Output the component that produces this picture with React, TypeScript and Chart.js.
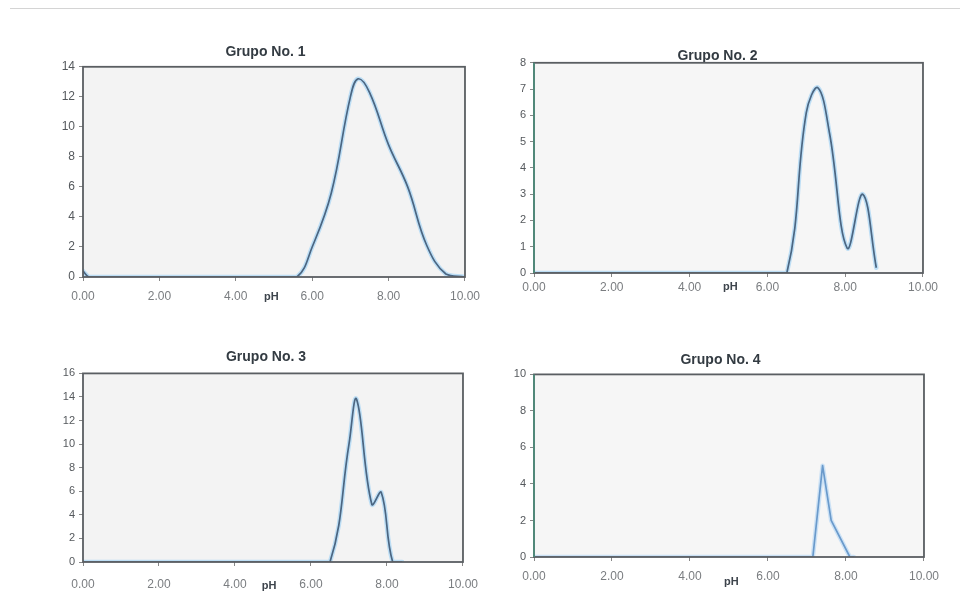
import React, { useEffect, useRef } from "react";
import { Chart, registerables } from "chart.js";

Chart.register(...registerables);

// ---------- data ----------
const xTickValues = [0, 2, 4, 6, 8, 10];

const titles = ["Grupo No. 1", "Grupo No. 2", "Grupo No. 3", "Grupo No. 4"];

const g1pH = [0, 0.15, 0.3, 5.0, 5.6, 6.0, 6.5, 7.0, 7.2, 7.5, 8.0, 8.5, 9.0, 9.5, 10];
const g1Count = [0.4, 0, 0, 0, 0, 2.0, 5.6, 12.0, 13.2, 12.3, 8.8, 6.0, 2.1, 0.2, 0];

const g2pH = [0, 6.0, 6.5, 7.0, 7.3, 7.6, 8.05, 8.45, 8.8];
const g2Count = [0, 0, 0, 6.1, 7.05, 5.3, 0.95, 3.0, 0.2];

const g3pH = [0, 6.0, 6.5, 7.0, 7.2, 7.6, 7.85, 8.15, 8.4];
const g3Count = [0, 0, 0, 10.0, 13.8, 4.9, 5.9, 0, 0];

const g4pH = [0, 6.9, 7.15, 7.4, 7.62, 8.1, 8.2];
const g4Count = [0, 0, 0, 5.0, 2.0, 0, 0];

const yMaxes = [14, 8, 16, 10];
const ySteps = [2, 1, 2, 2];

// ---------- plugin ----------
const framePlugin = {
  id: "frame",
  beforeDraw(chart: any, _args: any, opts: any) {
    const { ctx, chartArea: a } = chart;
    ctx.save();
    ctx.fillStyle = opts.bg;
    ctx.fillRect(a.left, a.top, a.right - a.left, a.bottom - a.top);
    ctx.restore();
  },
  afterDatasetsDraw(chart: any, _args: any, opts: any) {
    const { ctx, chartArea: a } = chart;
    ctx.save();
    ctx.strokeStyle = opts.border;
    ctx.lineWidth = 1.8;
    ctx.strokeRect(a.left, a.top, a.right - a.left, a.bottom - a.top);
    if (opts.leftColor) {
      ctx.strokeStyle = opts.leftColor;
      ctx.beginPath();
      ctx.moveTo(a.left, a.top);
      ctx.lineTo(a.left, a.bottom);
      ctx.stroke();
    }
    ctx.restore();
  },
  afterDraw(chart: any, _args: any, opts: any) {
    const { ctx } = chart;
    const xs = chart.scales.x;
    const x = xs.getPixelForValue(opts.phAt);
    const y = xs.top + opts.phDy;
    ctx.save();
    ctx.font = "bold 11px 'Liberation Sans', Arial, sans-serif";
    ctx.fillStyle = "#3d444c";
    ctx.textAlign = "center";
    ctx.textBaseline = "middle";
    ctx.fillText("pH", x, y);
    ctx.restore();
  },
};

type PanelProps = {
  title: string;
  xs: number[];
  ys: number[];
  yMax: number;
  yStep: number;
  tension: number;
  left: number;
  top: number;
  width: number;
  height: number;
  titlePadBottom: number;
  xLabelPad: number;
  yFont: number;
  bg: string;
  leftColor?: string;
  core: string;
  halo: string;
  phAt: number;
  phDy: number;
};

function Panel(p: PanelProps) {
  const ref = useRef<HTMLCanvasElement | null>(null);
  useEffect(() => {
    if (!ref.current) return;
    const pts = p.xs.map((x, i) => ({ x, y: p.ys[i] }));
    const chart = new Chart(ref.current, {
      type: "line",
      data: {
        datasets: [
          {
            data: pts,
            borderColor: p.core,
            borderWidth: 1.7,
            borderJoinStyle: "round",
            pointRadius: 0,
            tension: p.tension,
            fill: false,
            order: 0,
          },
          {
            data: pts,
            borderColor: p.halo,
            borderWidth: 4.5,
            borderJoinStyle: "round",
            borderCapStyle: "round",
            pointRadius: 0,
            tension: p.tension,
            fill: false,
            order: 1,
          },
        ],
      },
      options: {
        animation: false,
        responsive: true,
        maintainAspectRatio: false,
        layout: { padding: 0 },
        plugins: {
          legend: { display: false },
          tooltip: { enabled: false },
          title: {
            display: true,
            text: p.title,
            color: "#333b42",
            font: { family: "'Liberation Sans', Arial, sans-serif", size: 14, weight: "bold" },
            padding: { top: 4, bottom: p.titlePadBottom },
          },
          frame: {
            bg: p.bg,
            border: "#5a5e62",
            leftColor: p.leftColor,
            phAt: p.phAt,
            phDy: p.phDy,
          },
        } as any,
        scales: {
          x: {
            type: "linear",
            min: 0,
            max: 10,
            afterBuildTicks: (s: any) => {
              s.ticks = xTickValues.map((v) => ({ value: v }));
            },
            afterFit: (s: any) => {
              s.height = 30;
            },
            ticks: {
              callback: (v: any) => Number(v).toFixed(2),
              color: "#7a7d80",
              font: { family: "'Liberation Sans', Arial, sans-serif", size: 12 },
              padding: p.xLabelPad,
              maxRotation: 0,
            },
            grid: { drawOnChartArea: false, drawTicks: true, tickLength: 4, color: "#888" },
            border: { display: false },
          },
          y: {
            type: "linear",
            min: 0,
            max: p.yMax,
            afterFit: (s: any) => {
              s.width = 40;
            },
            ticks: {
              stepSize: p.yStep,
              color: "#55595d",
              font: { family: "'Liberation Sans', Arial, sans-serif", size: p.yFont },
              padding: 4,
            },
            grid: { drawOnChartArea: false, drawTicks: true, tickLength: 4, color: "#888" },
            border: { display: false },
          },
        },
      },
      plugins: [framePlugin as any],
    });
    return () => chart.destroy();
  }, []);
  return (
    <div
      style={{
        position: "absolute",
        left: p.left,
        top: p.top,
        width: p.width,
        height: p.height,
      }}
    >
      <canvas ref={ref} />
    </div>
  );
}

export default function App() {
  const core = "#4b6682";
  const halo = "rgba(165,212,245,0.7)";
  return (
    <div
      style={{
        position: "absolute",
        left: 0,
        top: 0,
        width: 969,
        height: 615,
        background: "#ffffff",
        overflow: "hidden",
      }}
    >
      <div
        style={{
          position: "absolute",
          left: 10,
          top: 8,
          width: 950,
          height: 0,
          borderTop: "1px solid #d4d4d4",
        }}
      />
      <Panel
        title={titles[0]}
        xs={g1pH}
        ys={g1Count}
        yMax={yMaxes[0]}
        yStep={ySteps[0]}
        tension={0.4}
        left={43}
        top={40}
        width={445}
        height={267}
        titlePadBottom={6}
        xLabelPad={8}
        yFont={12}
        bg="#f3f3f3"
        core={core}
        halo={halo}
        phAt={4.93}
        phDy={20}
      />
      <Panel
        title={titles[1]}
        xs={g2pH}
        ys={g2Count}
        yMax={yMaxes[1]}
        yStep={ySteps[1]}
        tension={0.4}
        left={494}
        top={44}
        width={447}
        height={259}
        titlePadBottom={-2}
        xLabelPad={3}
        yFont={11}
        bg="#f6f6f6"
        leftColor="#4f8c7c"
        core={core}
        halo={halo}
        phAt={5.05}
        phDy={14}
      />
      <Panel
        title={titles[2]}
        xs={g3pH}
        ys={g3Count}
        yMax={yMaxes[2]}
        yStep={ySteps[2]}
        tension={0.4}
        left={43}
        top={345}
        width={446}
        height={247}
        titlePadBottom={7.6}
        xLabelPad={11}
        yFont={11}
        bg="#f3f3f3"
        core={core}
        halo={halo}
        phAt={4.9}
        phDy={24}
      />
      <Panel
        title={titles[3]}
        xs={g4pH}
        ys={g4Count}
        yMax={yMaxes[3]}
        yStep={ySteps[3]}
        tension={0}
        left={494}
        top={348}
        width={453}
        height={239}
        titlePadBottom={5.6}
        xLabelPad={8}
        yFont={11}
        bg="#f6f6f6"
        leftColor="#4f8c7c"
        core="#6a9acb"
        halo="rgba(175,212,245,0.6)"
        phAt={5.06}
        phDy={25}
      />
    </div>
  );
}
